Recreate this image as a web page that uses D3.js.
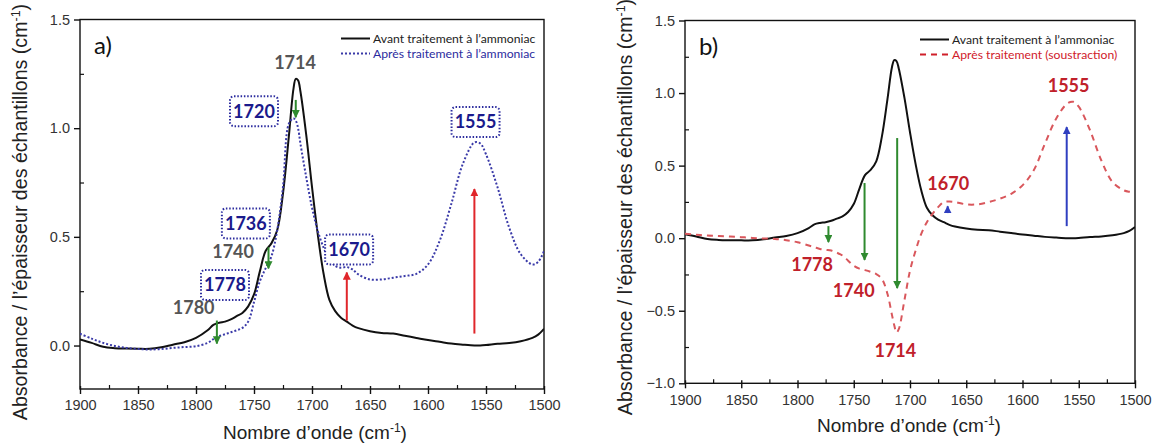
<!DOCTYPE html>
<html><head><meta charset="utf-8">
<script src="https://cdn.jsdelivr.net/npm/d3@7"></script>
<style>body{margin:0;background:#fff}svg{display:block}</style>
</head><body>
<svg id="chart" width="1158" height="445"></svg>
<script>
// ---- data ----
const wavenumbers = [1900,1890,1880,1870,1860,1850,1840,1830,1820,1810,
 1800,1790,1785,1780,1775,1770,1765,1760,1755,1750,
 1745,1740,1735,1730,1725,1720,1716,1714,1712,1710,
 1705,1700,1695,1690,1685,1680,1675,1670,1665,1660,
 1650,1640,1630,1620,1610,1600,1590,1580,1570,1560,
 1555,1550,1540,1530,1520,1510,1505,1500];
const avant = [0.028,0.012,-0.006,-0.012,-0.014,-0.015,-0.015,-0.008,0.004,0.015,
 0.035,0.07,0.095,0.105,0.11,0.12,0.135,0.15,0.18,0.235,
 0.34,0.435,0.47,0.53,0.70,0.96,1.18,1.227,1.22,1.17,
 0.97,0.73,0.51,0.33,0.21,0.158,0.128,0.11,0.092,0.08,
 0.066,0.058,0.055,0.045,0.035,0.025,0.017,0.009,0.004,0.0,
 0.0,0.002,0.008,0.012,0.02,0.035,0.05,0.077];
const apres = [0.054,0.032,0.012,-0.002,-0.011,-0.016,-0.018,-0.016,-0.011,-0.007,
 -0.003,0.012,0.03,0.043,0.052,0.061,0.07,0.081,0.11,0.2,
 0.295,0.355,0.41,0.53,0.73,1.02,1.045,1.035,1.0,0.93,
 0.775,0.635,0.527,0.45,0.396,0.366,0.358,0.361,0.35,0.327,
 0.304,0.304,0.312,0.32,0.33,0.373,0.481,0.65,0.835,0.934,
 0.93,0.88,0.727,0.542,0.42,0.373,0.385,0.435];
const soustraction = [0.03,0.024,0.018,0.015,0.012,0.007,0.002,-0.002,-0.005,-0.014,
 -0.028,-0.05,-0.062,-0.074,-0.08,-0.085,-0.1,-0.12,-0.155,-0.19,
 -0.21,-0.22,-0.232,-0.247,-0.28,-0.385,-0.53,-0.6,-0.65,-0.627,
 -0.43,-0.224,-0.085,0.03,0.11,0.168,0.214,0.249,0.253,0.249,
 0.233,0.233,0.249,0.272,0.306,0.364,0.468,0.652,0.825,0.929,
 0.94,0.906,0.744,0.537,0.387,0.33,0.32,0.318];

const xTicks = [1900,1850,1800,1750,1700,1650,1600,1550,1500];
const yTicksA = [0.0,0.5,1.0,1.5];
const yTicksB = [-1.0,-0.5,0.0,0.5,1.0,1.5];

// annotations panel a: [wavenumber, value, text]
const greyLabelsA = [[1714.6,1.30,"1714"],[1768,0.433,"1740"],[1802,0.175,"1780"]];
const boxLabelsA = [[1750,1.078,"1720"],[1757,0.562,"1736"],[1775,0.279,"1778"],[1668,0.442,"1670"],[1559,1.028,"1555"]];
// arrows: [wavenumber, from value, to value, colour key]
const arrowsA = [[1714,1.13,1.05,"g"],[1737.5,0.452,0.355,"g"],[1782,0.115,0.009,"g"],
 [1670,0.115,0.336,"r"],[1560,0.055,0.72,"r"]];
const redLabelsB = [[1559,1.054,"1555"],[1666,0.373,"1670"],[1787,-0.185,"1778"],[1750,-0.364,"1740"],[1713,-0.777,"1714"]];
const arrowsB = [[1772.5,0.083,-0.027,"g"],[1740.4,0.38,-0.15,"g"],[1711.4,0.69,-0.344,"g"],
 [1560.7,0.083,0.765,"b"],[1666.5,0.173,0.22,"b"]];

const colors = {g:"#2f8a2f", r:"#e0262b", b:"#2f3fc0"};
const svg = d3.select("#chart");
svg.append("rect").attr("width",1158).attr("height",445).attr("fill","#fff");
const defs = svg.append("defs");
Object.entries(colors).forEach(([k,c])=>{
  defs.append("marker").attr("id","ah"+k).attr("viewBox","0 0 10 10").attr("refX",9).attr("refY",5)
    .attr("markerWidth",4).attr("markerHeight",4).attr("orient","auto-start-reverse")
    .append("path").attr("d","M0,0L10,5L0,10z").attr("fill",c);
});

const axisFont = "'Liberation Sans', Arial, sans-serif";
const annFont = "Lato, 'Open Sans', sans-serif";

function panel(o){
  const x = d3.scaleLinear().domain([1900,1500]).range([o.x0,o.x1]);
  const y = d3.scaleLinear().domain(o.ydom).range([o.y0,o.y1]);
  const g = svg.append("g");
  // frame
  g.append("rect").attr("x",o.x0).attr("y",o.y1).attr("width",o.x1-o.x0).attr("height",o.y0-o.y1)
    .attr("fill","none").attr("stroke","#111").attr("stroke-width",1.4);
  // x axis
  const xa = g.append("g").attr("transform",`translate(0,${o.y0})`)
    .call(d3.axisBottom(x).tickValues(xTicks).tickFormat(d3.format("d")).tickSize(5).tickPadding(6));
  xa.select(".domain").remove();
  xa.selectAll("text").attr("font-family",axisFont).attr("font-size",14.5).attr("fill","#333");
  xa.selectAll("line").attr("stroke","#111").attr("stroke-width",1.4).attr("y1",-3);
  const xm = g.append("g").attr("transform",`translate(0,${o.y0})`)
    .call(d3.axisTop(x).tickValues(d3.range(1875,1500,-50)).tickFormat("").tickSize(4));
  xm.select(".domain").remove();
  xm.selectAll("line").attr("stroke","#111").attr("stroke-width",1.2);
  // y axis
  const ya = g.append("g").attr("transform",`translate(${o.x0},0)`)
    .call(d3.axisLeft(y).tickValues(o.yticks).tickFormat(d3.format(".1f")).tickSize(6).tickPadding(4));
  ya.select(".domain").remove();
  ya.selectAll("text").attr("font-family",axisFont).attr("font-size",14.5).attr("fill","#333");
  ya.selectAll("line").attr("stroke","#111").attr("stroke-width",1.4);
  const ym = g.append("g").attr("transform",`translate(${o.x0},0)`)
    .call(d3.axisRight(y).tickValues(o.yminor).tickFormat("").tickSize(4));
  ym.select(".domain").remove();
  ym.selectAll("line").attr("stroke","#111").attr("stroke-width",1.2);
  // titles
  const xt = g.append("text").attr("x",o.xtx).attr("y",o.xty).attr("text-anchor","middle")
    .attr("font-family",axisFont).attr("font-size",19).attr("fill","#222");
  xt.append("tspan").text("Nombre d’onde (cm");
  xt.append("tspan").text("-1").attr("font-size",12).attr("dy",-7);
  xt.append("tspan").text(")").attr("dy",7);
  const yt = g.append("text").attr("transform",`translate(${o.ytx},${o.yty}) rotate(-90)`)
    .attr("text-anchor","middle").attr("font-family",axisFont).attr("font-size",19.6).attr("fill","#222");
  yt.append("tspan").text("Absorbance / l’épaisseur des échantillons (cm");
  yt.append("tspan").text("-1").attr("font-size",12.5).attr("dy",-7);
  yt.append("tspan").text(")").attr("dy",7);
  // panel letter
  g.append("text").attr("x",o.x0+14).attr("y",o.y1+34).attr("font-family",annFont)
    .attr("font-size",24).attr("fill","#111").text(o.letter);
  // lines
  const clip = "clip"+o.letter[0];
  defs.append("clipPath").attr("id",clip).append("rect").attr("x",o.x0).attr("y",o.y1)
    .attr("width",o.x1-o.x0).attr("height",o.y0-o.y1);
  const line = vals => d3.line().x((d,i)=>x(wavenumbers[i])).y(d=>y(d)).curve(d3.curveCatmullRom.alpha(0.5))(vals);
  o.series.forEach(s=>{
    g.append("path").attr("d",line(s.values)).attr("fill","none").attr("stroke",s.color)
      .attr("stroke-width",s.w).attr("stroke-dasharray",s.dash||null).attr("clip-path",`url(#${clip})`);
  });
  // legend
  o.series.forEach((s,i)=>{
    const ly = o.y1 + 19 + i*15;
    g.append("line").attr("x1",o.legx).attr("x2",o.legx+29).attr("y1",ly).attr("y2",ly)
      .attr("stroke",s.legColor||s.color).attr("stroke-width",s.w).attr("stroke-dasharray",s.dash||null);
    g.append("text").attr("x",o.legx+32).attr("y",ly+4).attr("font-family",annFont).attr("font-size",12.2)
      .attr("fill",s.textColor).text(s.label);
  });
  // arrows
  o.arrows.forEach(a=>{
    g.append("line").attr("x1",x(a[0])).attr("x2",x(a[0])).attr("y1",y(a[1])).attr("y2",y(a[2]))
      .attr("stroke",colors[a[3]]).attr("stroke-width",2).attr("marker-end",`url(#ah${a[3]})`);
  });
  return {x,y,g};
}

const A = panel({x0:80,x1:544,y0:389,y1:19.5,ydom:[-0.2,1.5],yticks:yTicksA,yminor:[0.25,0.75,1.25],
  xtx:315,xty:439,ytx:27,yty:212,letter:"a)",legx:341,
  series:[{values:avant,color:"#111",w:2,label:"Avant traitement à l’ammoniac",textColor:"#222"},
          {values:apres,color:"#3a3aa8",w:2,dash:"2,2",label:"Après traitement  à l’ammoniac",textColor:"#2b2b9e"}],
  arrows:arrowsA});
greyLabelsA.forEach(d=>{
  A.g.append("text").attr("x",A.x(d[0])).attr("y",A.y(d[1])).attr("dy","0.35em").attr("text-anchor","middle")
    .attr("font-family",annFont).attr("font-weight","bold").attr("font-size",18).attr("fill","#555").text(d[2]);
});
boxLabelsA.forEach(d=>{
  const cx=A.x(d[0]), cy=A.y(d[1]);
  A.g.append("rect").attr("x",cx-24).attr("y",cy-15).attr("width",48).attr("height",30).attr("rx",4)
    .attr("fill","#fff").attr("stroke","#2b2b9e").attr("stroke-width",2).attr("stroke-dasharray","1.5,1.8");
  A.g.append("text").attr("x",cx).attr("y",cy).attr("dy","0.35em").attr("text-anchor","middle")
    .attr("font-family",annFont).attr("font-weight","bold").attr("font-size",18).attr("fill","#1a1a8c").text(d[2]);
});

const B = panel({x0:685,x1:1135,y0:383.3,y1:20.5,ydom:[-1,1.5],yticks:yTicksB,yminor:[-0.75,-0.25,0.25,0.75,1.25],
  xtx:909,xty:432,ytx:632,yty:207,letter:"b)",legx:920,
  series:[{values:avant,color:"#111",w:2,label:"Avant traitement à l’ammoniac",textColor:"#222"},
          {values:soustraction,color:"#d9575c",legColor:"#d0202a",w:2,dash:"6,5",label:"Après traitement  (soustraction)",textColor:"#d0202a"}],
  arrows:arrowsB});
redLabelsB.forEach(d=>{
  B.g.append("text").attr("x",B.x(d[0])).attr("y",B.y(d[1])).attr("dy","0.35em").attr("text-anchor","middle")
    .attr("font-family",annFont).attr("font-weight","bold").attr("font-size",18).attr("fill","#c0202a").text(d[2]);
});
</script>
</body></html>
